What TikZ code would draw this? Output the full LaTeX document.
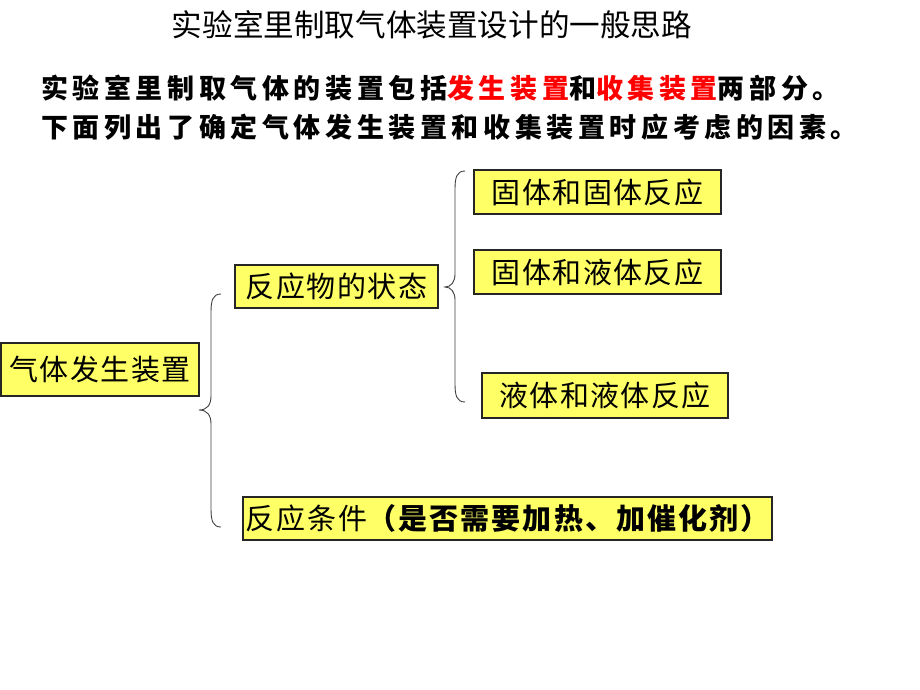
\documentclass[tikz,border=0pt]{standalone}
\usepackage{fontspec}
\newfontfamily\cjk{Noto Sans CJK SC}
\newfontfamily\cjkls[LetterSpace=17]{Noto Sans CJK SC}
\newfontfamily\cjkbox[LetterSpace=5]{Noto Sans CJK SC}
\newfontfamily\cjkwide[LetterSpace=7]{Noto Sans CJK SC}
\definecolor{boxyellow}{HTML}{FFFF66}
\definecolor{bracegray}{HTML}{404040}
\begin{document}
\begin{tikzpicture}[x=1pt,y=-1pt,
  yellowbox/.style={draw=black!85, line width=1.1pt, fill=boxyellow, inner sep=0pt,
    font=\cjkbox\fontsize{29}{32}\selectfont, text=black},
  plaintext/.style={inner sep=0pt, anchor=west, font=\cjkls\bfseries\fontsize{27}{30}\selectfont},
  bracepath/.style={draw=bracegray, line width=0.9pt}]
\useasboundingbox (0,0) rectangle (920,690);
\fill[white] (0,0) rectangle (920,690);

\node[inner sep=0pt, font=\cjk\fontsize{30.6}{33}\selectfont] (title) at (432,25) {实验室里制取气体装置设计的一般思路};
\node[plaintext] (line1) at (41,88) {实验室里制取气体的装置包括\textcolor{red}{发生装置}和\textcolor{red}{收集装置}两部分。};
\node[plaintext] (line2) at (41,127) {下面列出了确定气体发生装置和收集装置时应考虑的因素。};

\node[yellowbox, minimum width=198pt, minimum height=53pt] (gen) at (100,369.5) {气体发生装置};
\node[yellowbox, minimum width=203pt, minimum height=43pt] (state) at (336.5,286.5) {反应物的状态};
\node[yellowbox, minimum width=247pt, minimum height=44pt] (ss) at (597.5,192) {固体和固体反应};
\node[yellowbox, minimum width=247pt, minimum height=44pt] (sl) at (597.5,272) {固体和液体反应};
\node[yellowbox, minimum width=246pt, minimum height=45pt] (ll) at (605,395.5) {液体和液体反应};
\node[yellowbox, minimum width=529pt, minimum height=43pt, font=\cjkwide\fontsize{29}{32}\selectfont] (cond) at (507.5,518.5) {反应条件{\bfseries （是否需要加热、加催化剂）}};

% big brace
\coordinate (b1top) at (221,294);
\coordinate (b1tip) at (199,410);
\coordinate (b1bot) at (221,527);
\path[bracepath] (b1top) .. controls (213,294) and (211,300) .. (211,312) -- (211,396)
  .. controls (211,405) and (207,410) .. (b1tip)
  .. controls (207,410) and (211,415) .. (211,424) -- (211,509)
  .. controls (211,521) and (213,527) .. (b1bot);

% small brace
\coordinate (b2top) at (465,171);
\coordinate (b2tip) at (445,287);
\coordinate (b2bot) at (465,402);
\path[bracepath] (b2top) .. controls (457,171) and (455,177) .. (455,189) -- (455,274)
  .. controls (455,282) and (451,287) .. (b2tip)
  .. controls (451,287) and (455,292) .. (455,300) -- (455,384)
  .. controls (455,396) and (457,402) .. (b2bot);
\end{tikzpicture}
\end{document}
